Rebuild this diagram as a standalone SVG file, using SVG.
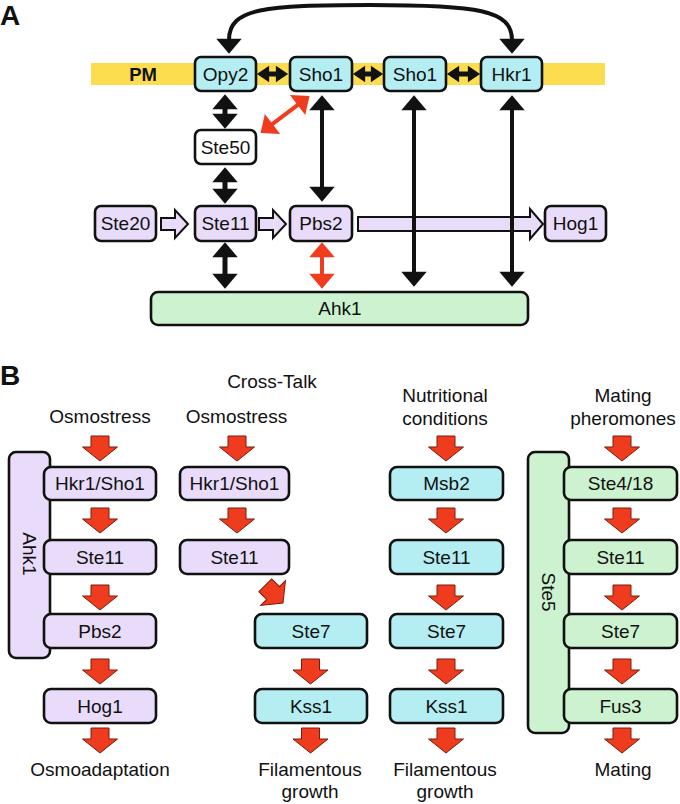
<svg xmlns="http://www.w3.org/2000/svg" width="680" height="804" viewBox="0 0 680 804">
<style>
text{font-family:"Liberation Sans",Arial,Helvetica,sans-serif;font-size:19px;fill:#111;text-anchor:middle}
.lbl{font-size:28px;font-weight:bold;text-anchor:start}
.pm{font-weight:bold;font-size:18.5px}
.box{stroke:#111;stroke-width:2.6}
.cy{fill:#B4EEF2}
.lv{fill:#E8DCFA}
.gr{fill:#CCF2CF}
.wh{fill:#fff}
.ln{fill:none;stroke:#111;stroke-width:4}
.sh{fill:none;stroke:#111;stroke-width:5}
.rl{fill:none;stroke:#F03C1E;stroke-width:4}
.ha{fill:#E8DCFA;stroke:#111;stroke-width:2}
</style>
<defs>
<marker id="mb" markerUnits="userSpaceOnUse" markerWidth="30" markerHeight="30" refX="0" refY="0" viewBox="-2 -13 16 26" orient="auto-start-reverse" overflow="visible"><path d="M-1,-11 L12,0 L-1,11 Z" fill="#111"/></marker>
<marker id="ms" markerUnits="userSpaceOnUse" markerWidth="20" markerHeight="20" refX="0" refY="0" viewBox="-2 -9 14 18" orient="auto-start-reverse" overflow="visible"><path d="M-1,-7.5 L10,0 L-1,7.5 Z" fill="#111"/></marker>
<marker id="mr" markerUnits="userSpaceOnUse" markerWidth="30" markerHeight="30" refX="0" refY="0" viewBox="-2 -13 16 26" orient="auto-start-reverse" overflow="visible"><path d="M-1,-11 L12,0 L-1,11 Z" fill="#F03C1E"/></marker>
<path id="ra" d="M-9,0 H9 V11 H17.5 L0,25 L-17.5,11 H-9 Z" fill="#F03C1E" stroke="#7A1A0A" stroke-width="1"/>
</defs>

<!-- Panel A -->
<text class="lbl" x="0" y="25">A</text>
<rect x="91" y="63" width="514" height="22" fill="#FDDD50"/>
<text class="pm" x="143" y="81">PM</text>

<g id="connectors-a">
<path class="ln" d="M229,40 C229,8 265,5 370,5 C478,5 512,10 512,40" marker-start="url(#mb)" marker-end="url(#mb)"/>
<line class="sh" x1="268" y1="74" x2="277" y2="74" marker-start="url(#ms)" marker-end="url(#ms)"/>
<line class="sh" x1="364" y1="74" x2="372" y2="74" marker-start="url(#ms)" marker-end="url(#ms)"/>
<line class="sh" x1="458" y1="74" x2="469" y2="74" marker-start="url(#ms)" marker-end="url(#ms)"/>
<line class="sh" x1="225" y1="108" x2="225" y2="115" marker-start="url(#mb)" marker-end="url(#mb)"/>
<line class="sh" x1="225" y1="181" x2="225" y2="190" marker-start="url(#mb)" marker-end="url(#mb)"/>
<line class="sh" x1="225" y1="256" x2="225" y2="275" marker-start="url(#mb)" marker-end="url(#mb)"/>
<line class="rl" x1="271.6" y1="124.7" x2="298.5" y2="104.3" marker-start="url(#mr)" marker-end="url(#mr)"/>
<line class="rl" x1="322" y1="256" x2="322" y2="275" stroke-width="5" marker-start="url(#mr)" marker-end="url(#mr)"/>
<line class="ln" x1="322" y1="109" x2="322" y2="188" marker-start="url(#mb)" marker-end="url(#mb)"/>
<polygon class="ha" points="161,218 175,218 175,210 188,224 175,238 175,230 161,230"/>
<polygon class="ha" points="259,218 273,218 273,210 286,224 273,238 273,230 259,230"/>
<polygon class="ha" points="358,217 530,217 530,209 543,224 530,239 530,231 358,231"/>
<line class="ln" x1="414" y1="109" x2="414" y2="273" marker-start="url(#mb)" marker-end="url(#mb)"/>
<line class="ln" x1="512" y1="109" x2="512" y2="273" marker-start="url(#mb)" marker-end="url(#mb)"/>
</g>

<g id="opy2"><rect class="box cy" x="195" y="57" width="61" height="34" rx="6"/><text x="225.5" y="81">Opy2</text></g>
<g id="sho1a"><rect class="box cy" x="290" y="57" width="62" height="34" rx="6"/><text x="321" y="81">Sho1</text></g>
<g id="sho1b"><rect class="box cy" x="384" y="57" width="62" height="34" rx="6"/><text x="415" y="81">Sho1</text></g>
<g id="hkr1"><rect class="box cy" x="481" y="57" width="61" height="34" rx="6"/><text x="511.5" y="81">Hkr1</text></g>
<g id="ste50"><rect class="box wh" x="195" y="130" width="61" height="34" rx="6"/><text x="225.5" y="154">Ste50</text></g>
<g id="ste20"><rect class="box lv" x="95" y="206" width="61" height="35" rx="6"/><text x="125.5" y="230">Ste20</text></g>
<g id="ste11a"><rect class="box lv" x="195" y="206" width="61" height="35" rx="6"/><text x="225.5" y="230">Ste11</text></g>
<g id="pbs2a"><rect class="box lv" x="290" y="206" width="62" height="35" rx="6"/><text x="321" y="230">Pbs2</text></g>
<g id="hog1a"><rect class="box lv" x="545" y="206" width="61" height="35" rx="6"/><text x="575.5" y="230">Hog1</text></g>
<g id="ahk1a"><rect class="box gr" x="151" y="292" width="377" height="33" rx="7"/><text x="340" y="315">Ahk1</text></g>

<!-- Panel B -->
<text class="lbl" x="0" y="385">B</text>
<text x="272" y="388">Cross-Talk</text>
<text x="100" y="423">Osmostress</text>
<text x="236.5" y="423">Osmostress</text>
<text x="445" y="402">Nutritional</text>
<text x="445" y="425">conditions</text>
<text x="623" y="402">Mating</text>
<text x="623" y="425">pheromones</text>
<text x="100" y="776">Osmoadaptation</text>
<text x="310" y="776">Filamentous</text>
<text x="310" y="798">growth</text>
<text x="445" y="776">Filamentous</text>
<text x="445" y="798">growth</text>
<text x="623" y="776">Mating</text>

<g id="connectors-b">
<use href="#ra" x="100" y="436"/>
<use href="#ra" x="100" y="508"/>
<use href="#ra" x="100" y="585"/>
<use href="#ra" x="100" y="659"/>
<use href="#ra" x="100" y="728"/>
<use href="#ra" x="237" y="436"/>
<use href="#ra" x="237" y="508"/>
<use href="#ra" transform="translate(265.3,585.3) rotate(-45)"/>
<use href="#ra" x="310.5" y="659"/>
<use href="#ra" x="310.5" y="728"/>
<use href="#ra" x="446" y="436"/>
<use href="#ra" x="446" y="508"/>
<use href="#ra" x="446" y="585"/>
<use href="#ra" x="446" y="659"/>
<use href="#ra" x="446" y="728"/>
<use href="#ra" x="622" y="436"/>
<use href="#ra" x="622" y="508"/>
<use href="#ra" x="622" y="585"/>
<use href="#ra" x="622" y="659"/>
<use href="#ra" x="622" y="728"/>
</g>

<g id="ahk1b"><rect class="box lv" x="9" y="452" width="41" height="206" rx="7"/><text transform="translate(29.5,554) rotate(90)" x="0" y="6.7">Ahk1</text></g>
<g id="c1-hkr1sho1"><rect class="box lv" x="44" y="467" width="112" height="33" rx="7"/><text x="100" y="490">Hkr1/Sho1</text></g>
<g id="c1-ste11"><rect class="box lv" x="44" y="540" width="112" height="34" rx="7"/><text x="100" y="564">Ste11</text></g>
<g id="c1-pbs2"><rect class="box lv" x="44" y="614" width="112" height="34" rx="7"/><text x="100" y="638">Pbs2</text></g>
<g id="c1-hog1"><rect class="box lv" x="44" y="689" width="112" height="34" rx="7"/><text x="100" y="713">Hog1</text></g>

<g id="c2-hkr1sho1"><rect class="box lv" x="180" y="467" width="109" height="33" rx="7"/><text x="234.5" y="490">Hkr1/Sho1</text></g>
<g id="c2-ste11"><rect class="box lv" x="180" y="540" width="109" height="34" rx="7"/><text x="234.5" y="564">Ste11</text></g>
<g id="c2-ste7"><rect class="box cy" x="255" y="614" width="112" height="34" rx="7"/><text x="311" y="638">Ste7</text></g>
<g id="c2-kss1"><rect class="box cy" x="255" y="689" width="112" height="34" rx="7"/><text x="311" y="713">Kss1</text></g>

<g id="c3-msb2"><rect class="box cy" x="390" y="467" width="113" height="33" rx="7"/><text x="446.5" y="490">Msb2</text></g>
<g id="c3-ste11"><rect class="box cy" x="390" y="540" width="113" height="34" rx="7"/><text x="446.5" y="564">Ste11</text></g>
<g id="c3-ste7"><rect class="box cy" x="390" y="614" width="113" height="34" rx="7"/><text x="446.5" y="638">Ste7</text></g>
<g id="c3-kss1"><rect class="box cy" x="390" y="689" width="113" height="34" rx="7"/><text x="446.5" y="713">Kss1</text></g>

<g id="ste5"><rect class="box gr" x="528" y="452" width="41" height="281" rx="7"/><text transform="translate(548.5,592) rotate(90)" x="0" y="6.7">Ste5</text></g>
<g id="c4-ste418"><rect class="box gr" x="564" y="467" width="113" height="33" rx="7"/><text x="620.5" y="490">Ste4/18</text></g>
<g id="c4-ste11"><rect class="box gr" x="564" y="540" width="113" height="34" rx="7"/><text x="620.5" y="564">Ste11</text></g>
<g id="c4-ste7"><rect class="box gr" x="564" y="614" width="113" height="34" rx="7"/><text x="620.5" y="638">Ste7</text></g>
<g id="c4-fus3"><rect class="box gr" x="564" y="689" width="113" height="34" rx="7"/><text x="620.5" y="713">Fus3</text></g>
</svg>
